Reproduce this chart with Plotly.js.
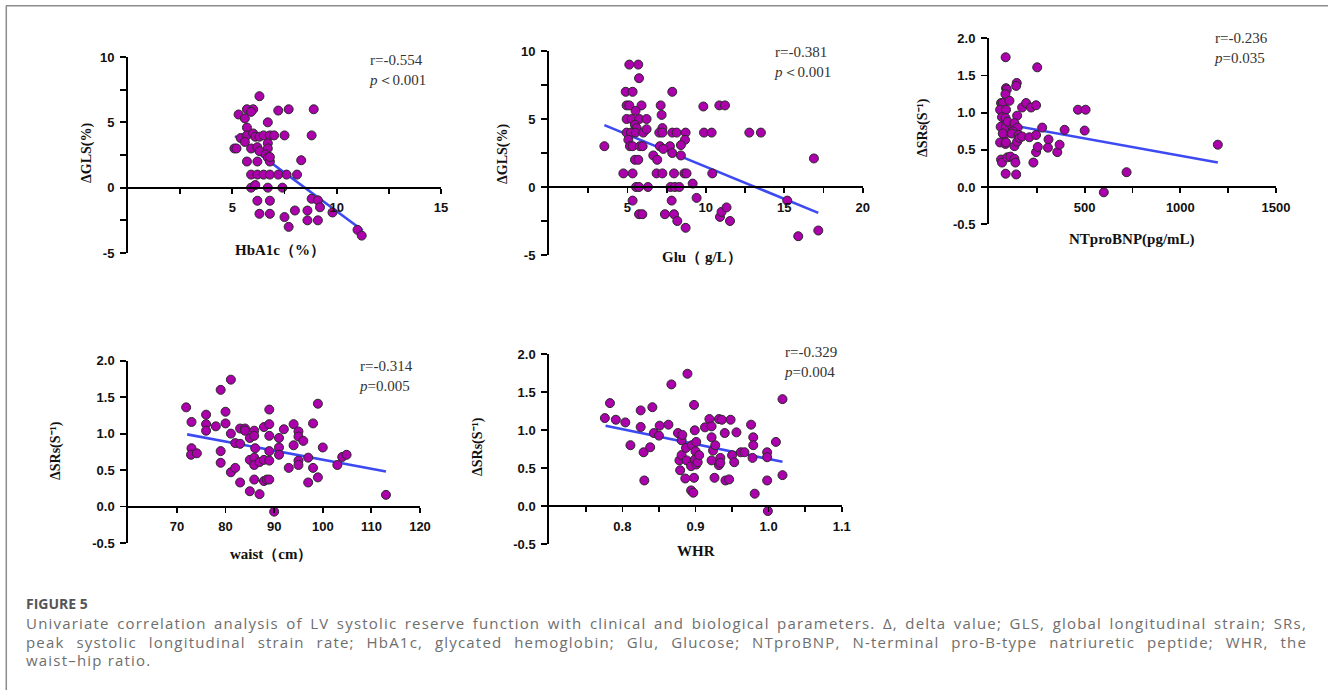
<!DOCTYPE html>
<html>
<head>
<meta charset="utf-8">
<script src="https://cdn.plot.ly/plotly-3.0.1.min.js"></script>
<style>
  html, body { margin: 0; padding: 0; background: #fff; }
  #chart { width: 1328px; height: 690px; }
</style>
</head>
<body>
<div id="chart"></div>
<script>
// ---------------- DATA ----------------
// Panel A: HbA1c (%) vs ΔGLS (%)
const hba1cX = [6.3,5.3,5.7,6.0,5.9,5.6,7.2,7.7,8.9,6.7,5.7,5.4,5.7,6.0,6.1,6.3,6.5,6.8,7.0,7.5,8.8,
  5.1,5.2,5.6,5.9,6.2,6.3,6.7,6.7,6.6,6.7,6.8,5.7,6.2,6.8,8.3,5.9,6.2,6.5,6.8,7.2,7.6,8.1,
  5.9,6.1,6.7,7.4,6.2,6.8,6.3,6.8,7.5,7.7,8.0,8.6,8.6,9.1,8.8,9.1,9.2,9.8,11.0,11.2];
const hba1cY = [7.0,5.6,6.0,6.0,5.8,5.3,5.9,6.0,6.0,5.0,4.6,3.8,4.0,4.15,3.9,3.9,4.0,4.0,4.0,4.0,4.0,
  3.0,3.0,3.5,3.0,3.1,2.8,3.4,3.0,2.55,2.3,2.0,2.0,2.0,2.35,2.1,1.0,1.0,1.0,1.0,1.0,1.0,1.0,
  0.0,0.2,0.0,0.0,-1.0,-1.0,-2.0,-2.0,-2.25,-3.0,-1.75,-1.75,-2.5,-2.5,-0.85,-0.97,-1.5,-1.9,-3.23,-3.67];
const hba1cFitX = [5.13, 11.25];
const hba1cFitY = [3.95, -3.28];

// Panel B: Glu (g/L) vs ΔGLS (%)
const gluX = [3.53,4.74,5.33,5.12,5.69,5.74,4.89,5.33,4.95,5.12,5.9,5.52,4.95,5.27,5.76,6.22,5.48,5.59,
  4.95,5.23,5.52,6.01,6.22,5.06,5.16,5.33,5.8,5.97,5.48,5.69,5.55,5.74,6.31,5.33,5.74,5.95,
  7.12,7.18,7.23,7.03,7.23,7.86,7.86,8.14,8.71,8.67,8.41,7.71,7.07,7.29,6.65,6.9,7.86,8.41,
  6.86,7.23,7.97,8.63,8.77,7.75,8.03,8.31,9.16,7.82,9.41,7.39,7.97,8.18,8.71,
  9.84,9.88,10.37,10.86,11.22,10.41,10.9,11.0,11.32,11.54,12.77,13.51,15.19,16.89,15.89,17.17];
const gluY = [3.0,1.0,1.0,9.0,9.0,8.0,7.0,7.0,6.0,6.0,6.0,5.6,5.0,5.0,5.0,5.0,4.57,4.33,
  4.0,4.0,4.0,4.0,4.25,3.47,3.0,3.0,3.0,3.0,2.0,2.0,0.0,0.0,0.0,-1.0,-2.0,-2.0,
  6.0,5.3,4.33,4.0,4.0,7.0,4.0,4.0,4.0,3.47,3.08,3.0,3.0,2.8,2.32,2.0,2.5,2.32,
  1.0,1.0,1.0,1.0,1.0,0.0,0.0,0.0,0.25,-1.0,-0.8,-2.0,-2.0,-2.5,-3.0,
  5.92,4.0,4.0,6.0,6.0,1.0,-2.2,-1.83,-1.5,-2.5,4.0,4.0,-1.0,2.1,-3.62,-3.2];
const gluFitX = [3.53, 17.17];
const gluFitY = [4.55, -1.9];

// Panel C: NTproBNP (pg/mL) vs ΔSRs (S^-1)
const ntX = [87,89,93,86,63,72,107,58,89,68,86,61,89,115,80,58,86,89,72,98,63,68,96,112,87,142,133,138,
  145,142,147,133,150,124,119,133,155,147,159,173,173,194,220,246,211,246,232,246,255,252,278,311,308,
  357,369,395,465,505,500,600,719,1196];
const ntY = [1.745,1.33,1.31,1.25,1.13,1.13,1.16,1.04,1.04,0.94,0.93,0.81,0.81,0.84,0.70,0.60,0.58,0.60,0.72,0.88,
  0.37,0.33,0.40,0.41,0.18,0.17,0.38,0.33,1.40,1.36,0.96,0.86,0.80,0.75,0.72,0.55,0.70,0.61,0.66,0.68,
  1.07,1.13,1.07,1.10,0.67,0.70,0.33,0.47,0.54,1.61,0.80,0.64,0.53,0.47,0.57,0.77,1.04,1.04,0.76,-0.07,0.20,0.57];
const ntFitX = [58, 1196];
const ntFitY = [0.86, 0.33];

// Panel D: waist (cm) vs ΔSRs (S^-1)
const waistX = [71.9,73.0,73.0,72.9,74.1,76.0,76.0,76.0,78.0,79.0,79.0,79.0,80.0,80.0,81.1,81.1,81.1,82.0,82.0,
  83.0,83.0,83.0,84.0,84.0,85.0,85.0,85.0,85.9,85.9,86.1,85.9,85.9,85.9,87.0,87.0,87.9,87.9,87.9,88.5,
  89.0,89.0,89.0,89.0,89.0,89.0,90.0,91.0,91.0,91.0,92.0,93.0,94.0,94.0,95.0,95.0,95.0,95.0,96.0,
  97.0,97.0,98.0,98.0,99.0,99.0,100.0,103.0,104.0,104.9,113.0];
const waistY = [1.36,1.16,0.80,0.71,0.73,1.26,1.13,1.04,1.10,1.60,0.76,0.60,1.30,1.14,1.74,1.00,0.47,0.53,0.87,
  1.07,0.86,0.33,1.07,1.04,0.94,0.64,0.21,1.04,0.97,0.80,0.67,0.57,0.37,0.17,0.61,1.09,0.64,0.35,0.37,
  1.33,1.13,0.97,0.76,0.63,0.37,-0.07,0.94,0.81,0.71,1.06,0.53,1.13,0.84,1.03,0.96,0.63,0.57,0.90,
  0.67,0.33,1.14,0.53,1.41,0.40,0.81,0.57,0.68,0.71,0.16];
const waistFitX = [72.1, 113.0];
const waistFitY = [0.99, 0.48];

// Panel E: WHR vs ΔSRs (S^-1)
const whrX = [0.776,0.783,0.791,0.804,0.811,0.825,0.825,0.829,0.830,0.838,0.841,0.843,0.850,0.851,0.863,0.867,
  0.876,0.878,0.879,0.881,0.882,0.881,0.886,0.887,0.888,0.889,0.894,0.897,0.894,0.895,0.898,0.898,0.899,
  0.899,0.901,0.900,0.901,0.903,0.905,0.913,0.919,0.922,0.922,0.922,0.924,0.926,0.927,0.932,0.932,0.934,
  0.934,0.936,0.940,0.941,0.946,0.948,0.950,0.953,0.956,0.962,0.967,0.976,0.979,0.979,0.978,0.981,
  0.998,0.998,0.998,0.999,1.010,1.019,1.019];
const whrY = [1.157,1.354,1.135,1.10,0.80,1.258,1.04,0.707,0.336,0.773,1.30,0.96,0.926,1.057,1.07,1.60,
  0.96,0.60,0.47,0.865,0.935,0.67,0.362,0.764,0.60,1.74,0.205,0.175,0.524,0.80,0.371,1.33,0.996,
  0.611,0.843,0.72,0.546,0.576,0.668,1.035,1.144,1.048,0.904,0.60,0.729,0.371,0.80,1.144,0.537,0.633,
  0.568,1.135,0.96,0.336,0.35,1.135,0.668,0.576,0.969,0.707,0.707,1.07,0.904,0.80,0.633,0.162,
  0.707,0.642,0.336,-0.066,0.843,1.406,0.406];
const whrFitX = [0.777, 1.019];
const whrFitY = [1.057, 0.581];

// Statistics text
const rValues = ['-0.554', '-0.381', '-0.236', '-0.314', '-0.329'];
const pValues = ['＜0.001', '＜0.001', '=0.035', '=0.005', '=0.004'];

// Axis titles
const xTitles = ['HbA1c（%）', 'Glu（ g/L）', 'NTproBNP(pg/mL)', 'waist（cm）', 'WHR'];
const yTitles = ['ΔGLS(%)', 'ΔGLS(%)', 'ΔSRs(S⁻¹)', 'ΔSRs(S⁻¹)', 'ΔSRs(S⁻¹)'];

// Tick values / labels (major = labelled, minor = unlabelled ticks)
const glsYTickVals = [-5, 0, 5, 10];
const glsYTickText = ['-5', '0', '5', '10'];
const glsYMinor = [-2.5, 2.5, 7.5];
const srsYTickVals = [-0.5, 0, 0.5, 1.0, 1.5, 2.0];
const srsYTickText = ['-0.5', '0.0', '0.5', '1.0', '1.5', '2.0'];
const hba1cTickVals = [5, 10, 15];
const hba1cTickText = ['5', '10', '15'];
const hba1cMinor = [2.5, 7.5, 12.5];
const gluTickVals = [5, 10, 15, 20];
const gluTickText = ['5', '10', '15', '20'];
const gluMinor = [2.5, 7.5, 12.5, 17.5];
const ntTickVals = [500, 1000, 1500];
const ntTickText = ['500', '1000', '1500'];
const ntMinor = [250, 750, 1250];
const waistTickVals = [70, 80, 90, 100, 110, 120];
const waistTickText = ['70', '80', '90', '100', '110', '120'];
const whrTickVals = [0.8, 0.9, 1.0, 1.1];
const whrTickText = ['0.8', '0.9', '1.0', '1.1'];
const whrMinor = [0.75, 0.85, 0.95, 1.05];

// Caption
const captionHead = 'FIGURE 5';
const captionLines = [
  'Univariate correlation analysis of LV systolic reserve function with clinical and biological parameters. Δ, delta value; GLS, global longitudinal strain; SRs,',
  'peak systolic longitudinal strain rate; HbA1c, glycated hemoglobin; Glu, Glucose; NTproBNP, N-terminal pro-B-type natriuretic peptide; WHR, the',
  'waist–hip ratio.'
];

// ---------------- LAYOUT ----------------
const W = 1328, H = 690;
const fx = p => p / W;
const fy = p => 1 - p / H;

const panels = [
  { xs: hba1cX, ys: hba1cY, fx: hba1cFitX, fy: hba1cFitY, xpx: [128, 441], ypx: [57, 253], xr: [0, 15], yr: [-5, 10],
    xtv: hba1cTickVals, xtt: hba1cTickText, xmin: hba1cMinor, ytv: glsYTickVals, ytt: glsYTickText, ymin: glsYMinor,
    stat: [367, 50], xt: [280, 250], yt: [87, 153] },
  { xs: gluX, ys: gluY, fx: gluFitX, fy: gluFitY, xpx: [549, 862.7], ypx: [51, 255], xr: [0, 20], yr: [-5, 10],
    xtv: gluTickVals, xtt: gluTickText, xmin: gluMinor, ytv: glsYTickVals, ytt: glsYTickText, ymin: glsYMinor,
    stat: [772, 42], xt: [702, 256.5], yt: [503, 154] },
  { xs: ntX, ys: ntY, fx: ntFitX, fy: ntFitY, xpx: [989, 1276], ypx: [38.3, 224.3], xr: [0, 1500], yr: [-0.5, 2],
    xtv: ntTickVals, xtt: ntTickText, xmin: ntMinor, ytv: srsYTickVals, ytt: srsYTickText, ymin: null,
    stat: [1212, 28], xt: [1132, 239.5], yt: [923, 128] },
  { xs: waistX, ys: waistY, fx: waistFitX, fy: waistFitY, xpx: [128.3, 420], ypx: [360.7, 543], xr: [60, 120], yr: [-0.5, 2],
    xtv: waistTickVals, xtt: waistTickText, xmin: null, ytv: srsYTickVals, ytt: srsYTickText, ymin: null,
    stat: [357, 356], xt: [271.5, 554], yt: [56, 450] },
  { xs: whrX, ys: whrY, fx: whrFitX, fy: whrFitY, xpx: [549.3, 841.7], ypx: [354, 544], xr: [0.7, 1.1], yr: [-0.5, 2],
    xtv: whrTickVals, xtt: whrTickText, xmin: whrMinor, ytv: srsYTickVals, ytt: srsYTickText, ymin: null,
    stat: [782, 342], xt: [696, 551], yt: [478, 447] }
];

const tickFont = { family: 'Liberation Sans, Arial, sans-serif', size: 13, color: '#111', weight: 'bold' };
const titleFont = { family: 'Liberation Serif, Times New Roman, serif', size: 15, color: '#111', weight: 'bold' };
const statFont = { family: 'Liberation Serif, Times New Roman, serif', size: 15, color: '#333' };

const minorCfg = vals => ({ tickmode: 'array', tickvals: vals, ticks: 'outside', ticklen: 5, tickwidth: 1.8, tickcolor: '#000', showgrid: false });

const data = [];
const layout = {
  width: W, height: H,
  margin: { l: 0, r: 0, t: 0, b: 0 },
  paper_bgcolor: '#fff', plot_bgcolor: 'rgba(0,0,0,0)',
  showlegend: false,
  annotations: [],
  shapes: [
    { type: 'line', xref: 'paper', yref: 'paper', x0: fx(6), x1: 1, y0: fy(5.7), y1: fy(5.7), line: { color: '#8c8c8c', width: 1.5 } },
    { type: 'line', xref: 'paper', yref: 'paper', x0: fx(6.3), x1: fx(6.3), y0: fy(5.7), y1: 0, line: { color: '#8c8c8c', width: 1.5 } }
  ]
};

panels.forEach((p, i) => {
  const n = i === 0 ? '' : String(i + 1);
  const xa = 'x' + n, ya = 'y' + n;
  // regression line (under markers)
  data.push({ type: 'scatter', mode: 'lines', x: p.fx, y: p.fy, xaxis: xa, yaxis: ya,
    line: { color: '#3d4af2', width: 2.6 }, hoverinfo: 'skip' });
  data.push({ type: 'scatter', mode: 'markers', x: p.xs, y: p.ys, xaxis: xa, yaxis: ya,
    marker: { color: '#ab00ab', size: 9, line: { color: '#2a2a2a', width: 1 } } });

  const yd = [fy(p.ypx[1]), fy(p.ypx[0])];
  const zeroPos = yd[0] + (0 - p.yr[0]) / (p.yr[1] - p.yr[0]) * (yd[1] - yd[0]);
  const xaxis = {
    domain: [fx(p.xpx[0]), fx(p.xpx[1])], range: p.xr, anchor: 'free', position: zeroPos,
    showline: true, linecolor: '#000', linewidth: 2, ticks: 'outside', ticklen: 5, tickwidth: 1.8, tickcolor: '#000',
    tickmode: 'array', tickvals: p.xtv, ticktext: p.xtt, tickfont: tickFont, ticklabelstandoff: 3,
    showgrid: false, zeroline: false, fixedrange: true
  };
  if (p.xmin) xaxis.minor = minorCfg(p.xmin);
  const yaxis = {
    domain: yd, range: p.yr, anchor: xa,
    showline: true, linecolor: '#000', linewidth: 2, ticks: 'outside', ticklen: 6, tickwidth: 1.8, tickcolor: '#000',
    tickmode: 'array', tickvals: p.ytv, ticktext: p.ytt, tickfont: tickFont, ticklabelstandoff: 3,
    showgrid: false, zeroline: false, fixedrange: true
  };
  if (p.ymin) { yaxis.minor = minorCfg(p.ymin); yaxis.minor.ticklen = 6; }
  layout['xaxis' + n] = xaxis;
  layout['yaxis' + n] = yaxis;

  layout.annotations.push({
    xref: 'paper', yref: 'paper', x: fx(p.stat[0]), y: fy(p.stat[1]), xanchor: 'left', yanchor: 'top', align: 'left',
    showarrow: false, font: statFont, text: 'r=' + rValues[i] + '<br><i>p</i>' + pValues[i]
  });
  layout.annotations.push({
    xref: 'paper', yref: 'paper', x: fx(p.xt[0]), y: fy(p.xt[1]), xanchor: 'center', yanchor: 'middle',
    showarrow: false, font: titleFont, text: xTitles[i]
  });
  layout.annotations.push({
    xref: 'paper', yref: 'paper', x: fx(p.yt[0]), y: fy(p.yt[1]), xanchor: 'center', yanchor: 'middle',
    showarrow: false, textangle: -90, font: Object.assign({}, titleFont, { size: 14 }), text: yTitles[i]
  });
});

// caption
layout.annotations.push({
  xref: 'paper', yref: 'paper', x: fx(24), y: fy(603), xanchor: 'left', yanchor: 'middle', align: 'left',
  showarrow: false, text: captionHead,
  font: { family: 'Open Sans, Lato, sans-serif', size: 14, color: '#555', weight: 'bold' }
});
const capY = [623, 641.5, 660];
captionLines.forEach((t, k) => {
  layout.annotations.push({
    xref: 'paper', yref: 'paper', x: fx(24), y: fy(capY[k]), xanchor: 'left', yanchor: 'middle', align: 'left',
    showarrow: false, text: t,
    font: { family: 'Open Sans, Lato, sans-serif', size: 15, color: '#6e6e6e' }
  });
});

Plotly.newPlot('chart', data, layout, { staticPlot: true, displayModeBar: false }).then(gd => {
  // widen letters so line 1 fills the column, then justify line 2 with word spacing (as in the reference)
  const target = 1281;
  const els = {};
  gd.querySelectorAll('.annotation-text').forEach(el => {
    const k = captionLines.indexOf(el.textContent);
    if (k >= 0) els[k] = el;
  });
  if (els[0]) {
    const t0 = captionLines[0];
    const w0 = els[0].getComputedTextLength();
    const ls = Math.max(0, (target - w0) * 0.8 / t0.length);
    Object.values(els).forEach(el => { el.style.letterSpacing = ls.toFixed(3) + 'px'; });
    [0, 1].forEach(k => {
      const el = els[k];
      if (!el) return;
      const txt = captionLines[k];
      const w = el.getComputedTextLength();
      const sp = (txt.match(/ /g) || []).length;
      if (sp > 0 && w < target) el.style.wordSpacing = ((target - w) / sp).toFixed(3) + 'px';
    });
  }
});
</script>
</body>
</html>
